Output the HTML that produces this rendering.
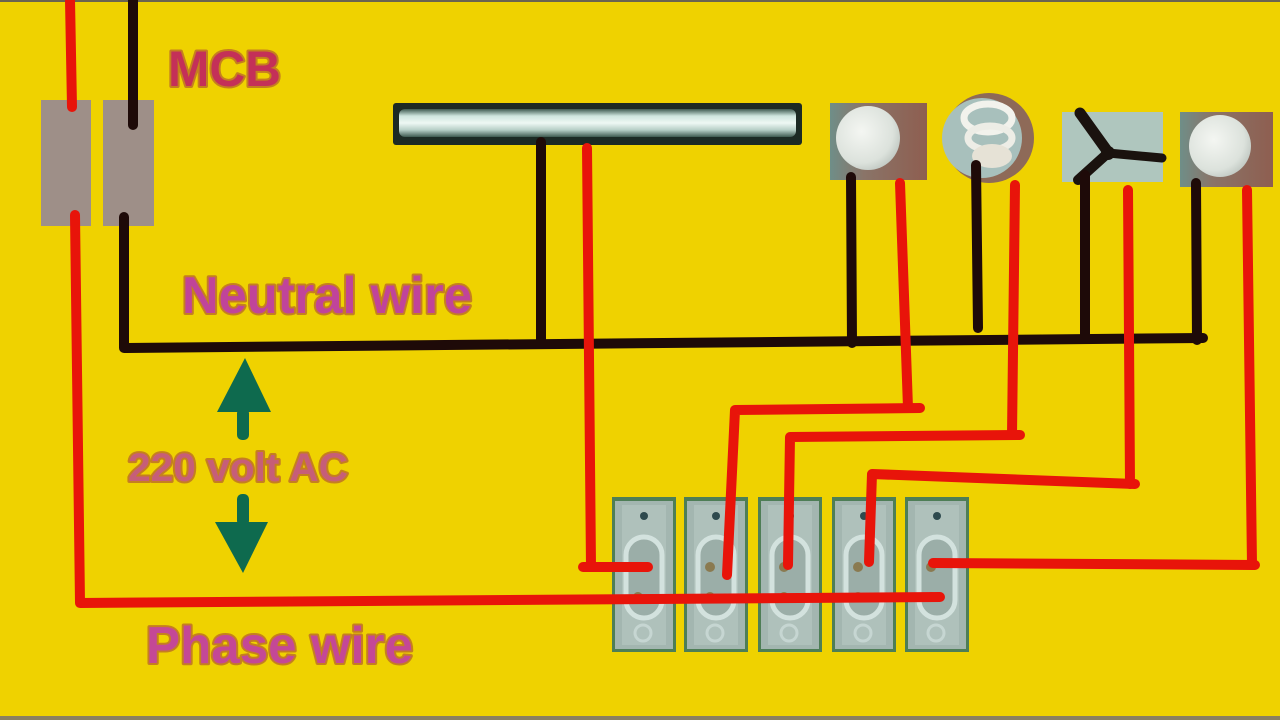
<!DOCTYPE html>
<html>
<head>
<meta charset="utf-8">
<style>
html,body{margin:0;padding:0;background:#EFD200;}
body{width:1280px;height:720px;overflow:hidden;}
svg{display:block;}
text{font-family:"Liberation Sans",Arial,sans-serif;font-weight:bold;}
</style>
</head>
<body>
<svg width="1280" height="720" viewBox="0 0 1280 720" xmlns="http://www.w3.org/2000/svg">
  <defs>
    <linearGradient id="bulbbg" x1="0" y1="0" x2="1" y2="0">
      <stop offset="0" stop-color="#6F8E88"/>
      <stop offset="0.35" stop-color="#8A7468"/>
      <stop offset="1" stop-color="#8E5E50"/>
    </linearGradient>
    <radialGradient id="bulb" cx="0.4" cy="0.4" r="0.7">
      <stop offset="0" stop-color="#F4F6F2"/>
      <stop offset="0.7" stop-color="#DCE2DC"/>
      <stop offset="1" stop-color="#B8C0BA"/>
    </radialGradient>
    <linearGradient id="tube" x1="0" y1="0" x2="0" y2="1">
      <stop offset="0" stop-color="#3E5A50"/>
      <stop offset="0.25" stop-color="#CFE6DE"/>
      <stop offset="0.5" stop-color="#EEF8F4"/>
      <stop offset="0.75" stop-color="#B6CEC6"/>
      <stop offset="1" stop-color="#3E5A50"/>
    </linearGradient>
    <g id="sw">
      <rect x="0" y="0" width="64" height="155" fill="#4E7E56"/>
      <rect x="3" y="4" width="58" height="148" fill="#A3B6B0"/>
      <rect x="10" y="8" width="44" height="140" fill="#AFC1BB"/>
      <circle cx="32" cy="19" r="4" fill="#2E4A4E"/>
      <rect x="14" y="40" width="36" height="81" rx="18" fill="#9BAEA8" stroke="#D3E2DE" stroke-width="5"/>
      <circle cx="26" cy="70" r="5" fill="#8A7A50"/>
      <circle cx="26" cy="100" r="5" fill="#8A7A50"/>
      <circle cx="31" cy="136" r="8" fill="none" stroke="#C6D6D2" stroke-width="3"/>
    </g>
  </defs>

  <!-- background -->
  <rect x="0" y="0" width="1280" height="720" fill="#EFD200"/>
  <rect x="0" y="0" width="1280" height="2" fill="#6A6450"/>
  <rect x="0" y="716" width="1280" height="4" fill="#8A8060"/>

  <!-- MCB boxes -->
  <rect x="41" y="100" width="50" height="126" fill="#9E8F88"/>
  <rect x="103" y="100" width="51" height="126" fill="#9E8F88"/>

  <!-- tube light -->
  <rect x="393" y="103" width="409" height="42" rx="3" fill="#1C2A24"/>
  <rect x="399" y="109" width="397" height="28" rx="6" fill="url(#tube)"/>

  <!-- bulb 1 -->
  <rect x="830" y="103" width="97" height="77" fill="url(#bulbbg)"/>
  <circle cx="868" cy="138" r="32" fill="url(#bulb)"/>
  <!-- CFL -->
  <circle cx="989" cy="138" r="45" fill="#8E6A58"/>
  <circle cx="982" cy="138" r="40" fill="#A8C0BC"/>
  <ellipse cx="988" cy="118" rx="24" ry="14" fill="none" stroke="#F2F2EC" stroke-width="7"/>
  <ellipse cx="990" cy="138" rx="22" ry="12" fill="none" stroke="#EDEDE6" stroke-width="7"/>
  <ellipse cx="992" cy="156" rx="20" ry="12" fill="#E6E2D6"/>
  <!-- fan -->
  <rect x="1062" y="112" width="101" height="70" fill="#AFC6BE"/>
  <path d="M1080,113 L1108,152" stroke="#1A120E" stroke-width="11" stroke-linecap="round"/>
  <path d="M1108,153 L1162,158" stroke="#1A120E" stroke-width="9" stroke-linecap="round"/>
  <path d="M1108,153 L1078,180" stroke="#1A120E" stroke-width="10" stroke-linecap="round"/>
  <circle cx="1108" cy="153" r="7" fill="#1A120E"/>
  <!-- bulb 2 -->
  <rect x="1180" y="112" width="93" height="75" fill="url(#bulbbg)"/>
  <circle cx="1220" cy="146" r="31" fill="url(#bulb)"/>

  <!-- switches -->
  <use href="#sw" x="612" y="497"/>
  <use href="#sw" x="684" y="497"/>
  <use href="#sw" x="758" y="497"/>
  <use href="#sw" x="832" y="497"/>
  <use href="#sw" x="905" y="497"/>

  <!-- black (neutral) wires -->
  <g stroke="#1E0A08" stroke-width="10" stroke-linecap="round" stroke-linejoin="round" fill="none">
    <path d="M133,0 L133,125"/>
    <path d="M124,217 L124,348 L1203,338"/>
    <path d="M541,142 L541,342"/>
    <path d="M851,177 L852,343"/>
    <path d="M976,165 L978,328"/>
    <path d="M1085,175 L1085,336"/>
    <path d="M1196,183 L1197,340"/>
  </g>

  <!-- red (phase) wires -->
  <g stroke="#E8140A" stroke-width="10" stroke-linecap="round" stroke-linejoin="round" fill="none">
    <path d="M70,0 L72,107"/>
    <path d="M75,215 L80,603 L940,597"/>
    <path d="M587,148 L591,567"/>
    <path d="M583,567 L648,567"/>
    <path d="M900,183 L908,408"/>
    <path d="M920,408 L735,410 L727,575"/>
    <path d="M1015,185 L1012,435"/>
    <path d="M1020,435 L790,437 L788,565"/>
    <path d="M1128,190 L1130,484"/>
    <path d="M1135,484 L872,474 L869,562"/>
    <path d="M1247,190 L1252,565"/>
    <path d="M1255,565 L933,563"/>
  </g>

  <!-- arrows -->
  <g fill="#0E6A4E">
    <polygon points="245,358 217,412 271,412"/>
    <rect x="237" y="408" width="12" height="32" rx="5"/>
    <rect x="237" y="494" width="12" height="32" rx="5"/>
    <polygon points="215,522 268,522 243,573"/>
  </g>

  <!-- labels -->
  <g stroke="#B8642A" stroke-width="4" stroke-linejoin="round" opacity="0.75">
    <text x="168" y="86" font-size="50" textLength="113" lengthAdjust="spacingAndGlyphs" fill="#B8642A">MCB</text>
    <text x="182" y="313" font-size="52" textLength="290" lengthAdjust="spacingAndGlyphs" fill="#B8642A">Neutral wire</text>
    <text x="128" y="481" font-size="40" textLength="220" lengthAdjust="spacingAndGlyphs" fill="#B8642A">220 volt AC</text>
    <text x="146" y="663" font-size="52" textLength="267" lengthAdjust="spacingAndGlyphs" fill="#B8642A">Phase wire</text>
  </g>
  <text x="168" y="86" font-size="50" textLength="113" lengthAdjust="spacingAndGlyphs" fill="#C43058">MCB</text>
  <text x="182" y="313" font-size="52" textLength="290" lengthAdjust="spacingAndGlyphs" fill="#C0449A">Neutral wire</text>
  <text x="128" y="481" font-size="40" textLength="220" lengthAdjust="spacingAndGlyphs" fill="#C65E78">220 volt AC</text>
  <text x="146" y="663" font-size="52" textLength="267" lengthAdjust="spacingAndGlyphs" fill="#C44896">Phase wire</text>
</svg>
</body>
</html>
